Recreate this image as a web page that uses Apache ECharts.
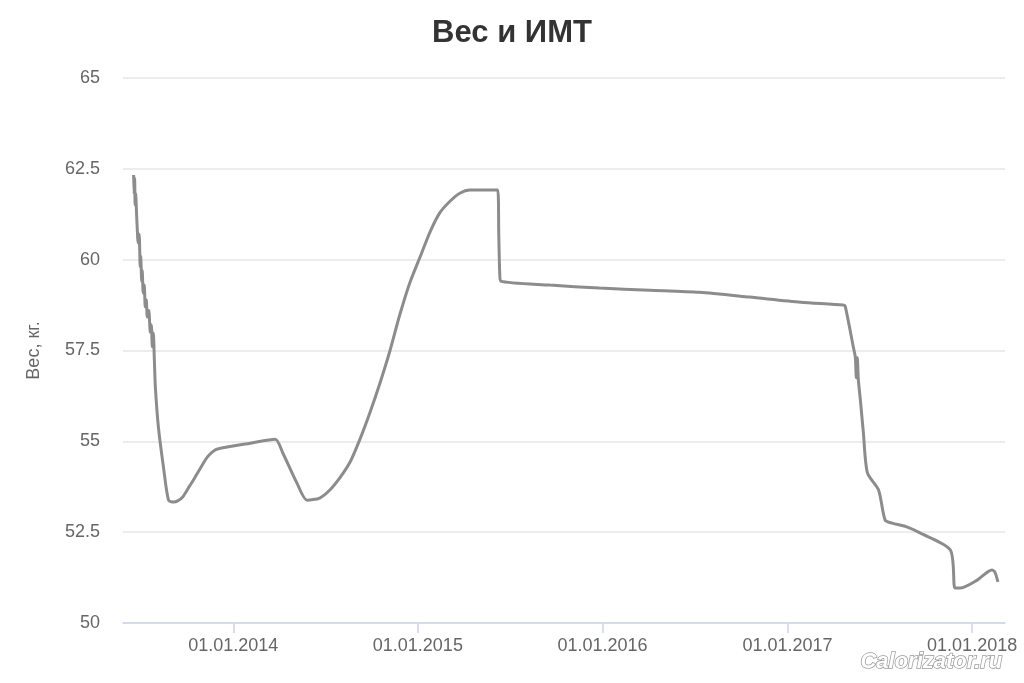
<!DOCTYPE html>
<html>
<head>
<meta charset="utf-8">
<script src="https://cdn.jsdelivr.net/npm/echarts@6/dist/echarts.min.js"></script>
<style>
  html, body { margin: 0; padding: 0; background: #fff; }
  #chart { width: 1024px; height: 683px; }
</style>
</head>
<body>
<div id="chart"></div>
<script>
// даты замеров и вес
var dates = [
  '2013-06-18', '2013-06-19', '2013-06-20', '2013-06-21', '2013-06-22', '2013-06-24', '2013-06-25',
  '2013-06-27', '2013-06-29', '2013-07-01', '2013-07-02', '2013-07-04', '2013-07-05', '2013-07-07',
  '2013-07-09', '2013-07-11', '2013-07-13', '2013-07-15', '2013-07-18', '2013-07-21', '2013-07-23',
  '2013-07-25', '2013-07-27', '2013-07-29', '2013-07-31', '2013-08-06', '2013-08-16', '2013-08-26',
  '2013-09-05', '2013-09-13', '2013-09-23', '2013-10-04', '2013-10-14', '2013-10-28', '2013-11-11',
  '2013-11-21', '2013-12-01', '2014-02-04', '2014-03-25',
  '2014-04-09', '2014-05-07', '2014-05-27', '2014-06-21', '2014-07-11', '2014-07-31', '2014-08-20',
  '2014-09-08', '2014-09-28', '2014-10-18', '2014-11-07', '2014-11-26', '2014-12-16', '2015-01-07',
  '2015-01-25', '2015-02-13', '2015-03-05', '2015-03-25', '2015-04-14', '2015-06-08', '2015-06-10',
  '2015-06-12', '2015-06-14', '2015-09-19', '2015-12-26', '2016-04-03', '2016-07-11', '2016-10-18',
  '2017-01-27', '2017-04-21', '2017-04-25', '2017-05-11', '2017-05-15', '2017-05-17', '2017-05-19',
  '2017-05-21', '2017-05-25', '2017-05-31', '2017-06-08', '2017-06-30', '2017-07-13', '2017-07-27',
  '2017-08-26', '2017-09-20', '2017-11-19', '2017-11-28', '2017-12-08', '2018-01-11', '2018-02-09',
  '2018-02-15', '2018-02-21'
];
var weights = [
  62.33, 61.8, 62.25, 61.5, 61.83, 61.2, 60.9,
  60.46, 60.7, 59.8, 60.1, 59.4, 59.7, 59.08,
  59.3, 58.7, 58.9, 58.42, 58.6, 58.0, 58.2,
  57.6, 57.98, 57.24, 56.49, 55.39, 54.29, 53.38,
  53.33, 53.36, 53.47, 53.71, 53.93, 54.26, 54.57,
  54.71, 54.79, 54.95, 55.06,
  54.68, 53.85, 53.38, 53.44, 53.66, 54.0, 54.43,
  55.04, 55.78, 56.6, 57.5, 58.47, 59.36, 60.13,
  60.76, 61.28, 61.6, 61.83, 61.92, 61.92, 60.7,
  59.6, 59.41, 59.3, 59.22, 59.16, 59.1, 58.97,
  58.83, 58.75, 58.72, 57.6, 57.32, 56.75, 57.3,
  56.7, 56.14, 55.23, 54.13, 53.66, 52.83, 52.75,
  52.64, 52.48, 52.01, 50.96, 50.96, 51.18, 51.46,
  51.4, 51.13
];
var yearTicks = ['2014-01-01', '2015-01-01', '2016-01-01', '2017-01-01', '2018-01-01'];

function ts(s) {
  var p = s.split('-');
  return new Date(+p[0], +p[1] - 1, +p[2]).getTime();
}
function pad(n) { return (n < 10 ? '0' : '') + n; }

var chart = echarts.init(document.getElementById('chart'));
var seriesData = dates.map(function (d, i) { return [ts(d), weights[i]]; });
var tickValues = yearTicks.map(ts);

chart.setOption({
  backgroundColor: '#ffffff',
  animation: false,
  title: {
    text: 'Вес и ИМТ',
    left: 'center',
    top: 13,
    textStyle: { fontFamily: 'Liberation Sans', fontSize: 31, fontWeight: 'bold', color: '#333333' }
  },
  grid: { left: 123, right: 19, top: 78, bottom: 60 },
  xAxis: {
    type: 'value',
    min: ts('2013-05-28'),
    max: ts('2018-03-07'),
    scale: true,
    axisLine: { lineStyle: { color: '#ccd6eb', width: 1.5 } },
    axisTick: { show: true, length: 10, customValues: tickValues, lineStyle: { color: '#ccd6eb', width: 1.5 } },
    splitLine: { show: false },
    axisLabel: {
      customValues: tickValues,
      color: '#666666',
      fontSize: 18,
      fontFamily: 'Liberation Sans',
      margin: 14,
      formatter: function (v) {
        var d = new Date(v);
        return pad(d.getDate()) + '.' + pad(d.getMonth() + 1) + '.' + d.getFullYear();
      }
    }
  },
  yAxis: {
    type: 'value',
    min: 50,
    max: 65,
    interval: 2.5,
    name: 'Вес, кг.',
    nameLocation: 'middle',
    nameGap: 80,
    nameTextStyle: { color: '#666666', fontSize: 18, fontFamily: 'Liberation Sans' },
    axisLine: { show: false },
    axisTick: { show: false },
    splitLine: { lineStyle: { color: '#e6e6e6', width: 1.5 } },
    axisLabel: { color: '#666666', fontSize: 18, fontFamily: 'Liberation Sans', margin: 23 }
  },
  series: [{
    type: 'line',
    data: seriesData,
    showSymbol: false,
    smooth: 0.25,
    lineStyle: { color: '#8c8c8c', width: 3 },
    itemStyle: { color: '#8c8c8c' }
  }],
  graphic: [{
    type: 'text',
    right: 21,
    bottom: 9,
    style: {
      text: 'Calorizator.ru',
      font: 'italic bold 22px "Liberation Sans"',
      fill: '#ffffff',
      stroke: '#9a9a9a',
      lineWidth: 1.5,
      shadowColor: 'rgba(0,0,0,0.45)',
      shadowBlur: 4,
      shadowOffsetX: 2,
      shadowOffsetY: 2
    }
  }]
});
</script>
</body>
</html>
